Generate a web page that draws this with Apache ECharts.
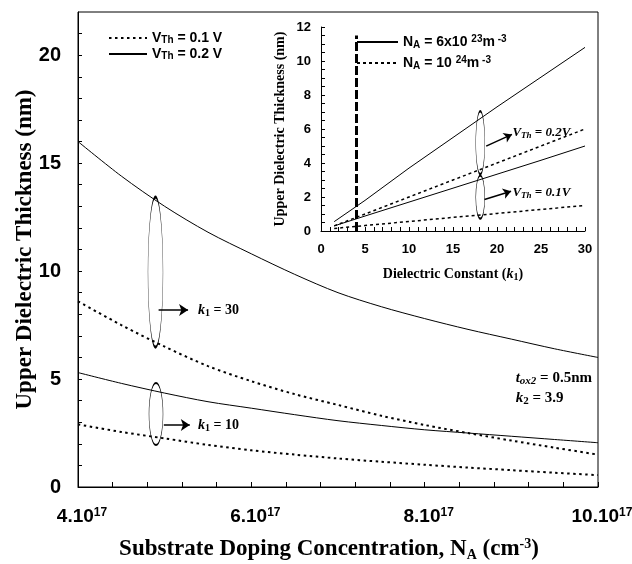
<!DOCTYPE html>
<html>
<head>
<meta charset="utf-8">
<script src="https://cdn.jsdelivr.net/npm/echarts@6/dist/echarts.min.js"></script>
<style>
  html, body { margin: 0; padding: 0; background: #fff; }
  #chart { width: 632px; height: 564px; }
</style>
</head>
<body>
<div id="chart"></div>
<script>
// Main panel: upper dielectric thickness vs substrate doping (x in units of 10^17 cm^-3)
const dopingLevels = [4, 4.5, 5, 5.5, 6, 6.5, 7, 7.5, 8, 8.5, 9, 9.5, 10];
const k30Vth02 = [16.0, 14.4, 13.0, 11.8, 10.8, 9.85, 9.0, 8.35, 7.8, 7.3, 6.85, 6.4, 6.0];
const k30Vth01 = [8.6, 7.5, 6.5, 5.6, 4.9, 4.3, 3.8, 3.3, 2.87, 2.5, 2.15, 1.82, 1.5];
const k10Vth02 = [5.3, 4.8, 4.35, 3.95, 3.65, 3.35, 3.07, 2.85, 2.65, 2.5, 2.35, 2.2, 2.05];
const k10Vth01 = [2.9, 2.55, 2.25, 1.95, 1.7, 1.5, 1.32, 1.17, 1.03, 0.9, 0.78, 0.66, 0.55];

// Inset: thickness vs dielectric constant k1
const kValues = [1.5, 5, 10, 15, 20, 25, 30];
const na6Vth02 = [0.55, 1.8, 3.7, 5.5, 7.3, 9.05, 10.8];
const na10Vth02 = [0.3, 1.0, 2.0, 3.0, 4.0, 5.0, 6.0];
const na6Vth01 = [0.3, 0.88, 1.7, 2.52, 3.34, 4.16, 5.0];
const na10Vth01 = [0.15, 0.32, 0.56, 0.8, 1.03, 1.27, 1.5];

// Tick labels
const mainXLabels = [4, 6, 8, 10];
const mainYLabels = [0, 5, 10, 15, 20];

const SERIF = '"Liberation Serif", "Times New Roman", serif';
const SANS = '"Liberation Sans", Arial, sans-serif';
const BLACK = '#000';

const pairs = (xs, ys) => xs.map((x, i) => [x, ys[i]]);

function font(family, size, extra) {
  return Object.assign({ fontFamily: family, fontSize: size, fontWeight: 'bold', color: BLACK }, extra || {});
}

const solid = { color: BLACK, width: 1, type: 'solid' };
const dotted = { color: BLACK, width: 2, type: [2.5, 3.5], cap: 'butt' };
const insetDotted = { color: BLACK, width: 1.5, type: [3, 3], cap: 'butt' };

const noEmph = { disabled: true };

// Rich styles shared by annotation text
const serifRich = (size) => ({
  b: font(SERIF, size, { lineHeight: size + 2 }),
  i: font(SERIF, size, { fontStyle: 'italic', lineHeight: size + 2 }),
  s: font(SERIF, Math.round(size * 0.7), { lineHeight: 6, verticalAlign: 'bottom' }),
  si: font(SERIF, Math.round(size * 0.7), { fontStyle: 'italic', lineHeight: 6, verticalAlign: 'bottom' }),
  p: font(SERIF, Math.round(size * 0.7), { lineHeight: 8, verticalAlign: 'top' })
});

function textPoint(coord, text, size) {
  return {
    coord: coord,
    symbol: 'circle',
    symbolSize: 0,
    label: {
      show: true,
      position: 'right',
      distance: 0,
      formatter: text,
      rich: serifRich(size)
    }
  };
}

function ellipse(coord, w, h) {
  return {
    coord: coord,
    symbol: 'circle',
    symbolSize: [w, h],
    itemStyle: { color: 'rgba(0,0,0,0)', borderColor: BLACK, borderWidth: 1 },
    label: { show: false }
  };
}

const arrow = (from, to) => [{ coord: from }, { coord: to }];

const mainMarkPoint = {
  silent: true,
  animation: false,
  data: [
    ellipse([4.894, 9.95], 15, 150),
    ellipse([4.9, 3.38], 14, 62),
    textPoint([5.385, 8.2], '{i|k}{s|1}{b| = 30}', 14),
    textPoint([5.385, 2.87], '{i|k}{s|1}{b| = 10}', 14),
    textPoint([9.05, 5.05], '{i|t}{si|ox2}{b| = 0.5nm}', 15),
    textPoint([9.05, 4.12], '{i|k}{s|2}{b| = 3.9}', 15)
  ]
};

const mainMarkLine = {
  silent: true,
  animation: false,
  symbol: ['none', 'arrow'],
  symbolSize: 9,
  lineStyle: { color: BLACK, width: 1.5, type: 'solid' },
  itemStyle: { color: BLACK },
  label: { show: false },
  data: [
    arrow([4.93, 8.2], [5.27, 8.2]),
    arrow([4.99, 2.87], [5.29, 2.87])
  ]
};

const insetMarkPoint = {
  silent: true,
  animation: false,
  data: [
    ellipse([18.1, 5.19], 9, 63),
    ellipse([18.1, 1.99], 9, 43),
    textPoint([21.75, 5.8], '{i|V}{si|Th}{i| = 0.2V}', 13),
    textPoint([21.75, 2.28], '{i|V}{si|Th}{i| = 0.1V}', 13)
  ]
};

const insetArrows = {
  silent: true,
  animation: false,
  symbol: ['none', 'arrow'],
  symbolSize: 8,
  lineStyle: { color: BLACK, width: 1.5, type: 'solid' },
  itemStyle: { color: BLACK },
  label: { show: false },
  data: [
    arrow([18.77, 4.99], [21.7, 5.68]),
    arrow([18.58, 1.85], [21.6, 2.34])
  ]
};

const insetDashLine = {
  silent: true,
  animation: false,
  symbol: ['none', 'none'],
  lineStyle: { color: BLACK, width: 3, type: [9, 3] },
  label: { show: false },
  data: [arrow([4, 0], [4, 11.5])]
};

function lineSeries(name, xIdx, data, style, extra) {
  return Object.assign({
    name: name,
    type: 'line',
    xAxisIndex: xIdx,
    yAxisIndex: xIdx,
    data: data,
    symbol: 'none',
    showSymbol: false,
    smooth: xIdx === 0 ? 0.3 : false,
    color: BLACK,
    lineStyle: style,
    emphasis: noEmph,
    animation: false,
    z: 3
  }, extra || {});
}

const axisBase = {
  type: 'value',
  splitLine: { show: false },
  nameMoveOverlap: false,
  axisLine: { show: true, onZero: false, lineStyle: { color: BLACK, width: 1 } },
  axisTick: { show: true, inside: true, length: 5, lineStyle: { color: BLACK, width: 1 } }
};

const legendSub = { lineHeight: 8, verticalAlign: 'bottom' };
const legendSup = { lineHeight: 8, verticalAlign: 'top' };
// legend keys show only the line pattern
const hiddenSymbol = { opacity: 0, color: 'rgba(0,0,0,0)', borderWidth: 0 };

const option = {
  backgroundColor: '#fff',
  animation: false,
  grid: [
    { left: 78, right: 34, top: 12, bottom: 77, show: true, borderColor: BLACK, borderWidth: 1,
      backgroundColor: 'rgba(0,0,0,0)', containLabel: false, outerBoundsMode: 'none' },
    { left: 321, right: 47, top: 27, bottom: 333, show: false, containLabel: false, outerBoundsMode: 'none' }
  ],
  legend: [
    {
      data: ['vth01', 'vth02'],
      orient: 'vertical',
      left: 103,
      top: 26,
      itemWidth: 38,
      itemHeight: 12,
      itemGap: 2,
      selectedMode: false,
      itemStyle: hiddenSymbol,
      formatter: (n) => n === 'vth01' ? '{b|V}{s|Th}{b| = 0.1 V}' : '{b|V}{s|Th}{b| = 0.2 V}',
      textStyle: {
        color: BLACK,
        rich: {
          b: font(SANS, 14, { lineHeight: 14 }),
          s: font(SANS, 10, legendSub)
        }
      }
    },
    {
      data: ['na6', 'na10'],
      orient: 'vertical',
      left: 351,
      top: 29,
      itemWidth: 41,
      itemHeight: 12,
      itemGap: 5,
      selectedMode: false,
      itemStyle: hiddenSymbol,
      formatter: (n) => n === 'na6'
        ? '{b|N}{s|A}{b| = 6x10 }{p|23}{b|m}{p| -3}'
        : '{b|N}{s|A}{b| = 10 }{p|24}{b|m}{p| -3}',
      textStyle: {
        color: BLACK,
        rich: {
          b: font(SANS, 14, { lineHeight: 16 }),
          s: font(SANS, 10, legendSub),
          p: font(SANS, 10, legendSup)
        }
      }
    }
  ],
  xAxis: [
    Object.assign({}, axisBase, {
      gridIndex: 0,
      min: 4,
      max: 10,
      interval: 2,
      minorTick: { show: true, splitNumber: 5, length: 5, lineStyle: { color: BLACK, width: 1 } },
      axisLabel: {
        margin: 20,
        padding: [0, 0, 0, 8],
        formatter: (v) => mainXLabels.includes(v) ? '{b|' + v + '.10}{p|17}' : '',
        rich: {
          b: font(SANS, 19, { lineHeight: 20 }),
          p: font(SANS, 12, { lineHeight: 8, verticalAlign: 'top' })
        }
      },
      name: '{b|Substrate Doping Concentration, N}{s|A}{b| (cm}{p|-3}{b|)}',
      nameLocation: 'middle',
      nameGap: 50,
      nameTextStyle: {
        padding: [0, 18, 0, 0],
        rich: {
          b: font(SERIF, 23, { lineHeight: 25 }),
          s: font(SERIF, 14, { lineHeight: 8, verticalAlign: 'bottom' }),
          p: font(SERIF, 14, { lineHeight: 10, verticalAlign: 'top' })
        }
      }
    }),
    Object.assign({}, axisBase, {
      gridIndex: 1,
      min: 0,
      max: 30,
      interval: 5,
      axisTick: { show: true, inside: true, length: 4, lineStyle: { color: BLACK, width: 1 } },
      minorTick: { show: true, splitNumber: 5, length: 4, lineStyle: { color: BLACK, width: 1 } },
      axisLabel: { margin: 12, fontFamily: SANS, fontSize: 13, fontWeight: 'bold', color: BLACK },
      name: '{b|Dielectric Constant (}{i|k}{s|1}{b|)}',
      nameLocation: 'middle',
      nameGap: 36,
      nameTextStyle: {
        rich: {
          b: font(SERIF, 14, { lineHeight: 15 }),
          i: font(SERIF, 14, { fontStyle: 'italic', lineHeight: 15 }),
          s: font(SERIF, 10, { lineHeight: 6, verticalAlign: 'bottom' })
        }
      }
    })
  ],
  yAxis: [
    Object.assign({}, axisBase, {
      gridIndex: 0,
      min: 0,
      max: 22,
      interval: 1,
      axisTick: { show: true, inside: true, length: 4, lineStyle: { color: BLACK, width: 1 } },
      axisLabel: {
        margin: 17,
        showMaxLabel: false,
        formatter: (v) => mainYLabels.includes(v) ? String(v) : '',
        fontFamily: SANS, fontSize: 20, fontWeight: 'bold', color: BLACK
      },
      name: 'Upper Dielectric Thickness (nm)',
      nameLocation: 'middle',
      nameGap: 41,
      nameTextStyle: font(SERIF, 23)
    }),
    Object.assign({}, axisBase, {
      gridIndex: 1,
      min: 0,
      max: 12,
      interval: 2,
      axisTick: { show: true, inside: true, length: 4, lineStyle: { color: BLACK, width: 1 } },
      minorTick: { show: true, splitNumber: 4, length: 4, lineStyle: { color: BLACK, width: 1 } },
      axisLabel: { margin: 10, fontFamily: SANS, fontSize: 13, fontWeight: 'bold', color: BLACK },
      name: 'Upper Dielectric Thickness (nm)',
      nameLocation: 'middle',
      nameGap: 34,
      nameTextStyle: font(SERIF, 14)
    })
  ],
  series: [
    lineSeries('vth01', 0, pairs(dopingLevels, k30Vth01), dotted, { markPoint: mainMarkPoint, markLine: mainMarkLine }),
    lineSeries('vth02', 0, pairs(dopingLevels, k30Vth02), solid),
    lineSeries('vth02', 0, pairs(dopingLevels, k10Vth02), solid),
    lineSeries('vth01', 0, pairs(dopingLevels, k10Vth01), dotted),
    lineSeries('na6', 1, pairs(kValues, na6Vth02), solid, { markPoint: insetMarkPoint, markLine: insetArrows }),
    lineSeries('na10', 1, pairs(kValues, na10Vth02), insetDotted, { markLine: insetDashLine }),
    lineSeries('na6', 1, pairs(kValues, na6Vth01), solid),
    lineSeries('na10', 1, pairs(kValues, na10Vth01), insetDotted)
  ]
};

const chart = echarts.init(document.getElementById('chart'), null, { renderer: 'canvas' });
chart.setOption(option);
</script>
</body>
</html>
